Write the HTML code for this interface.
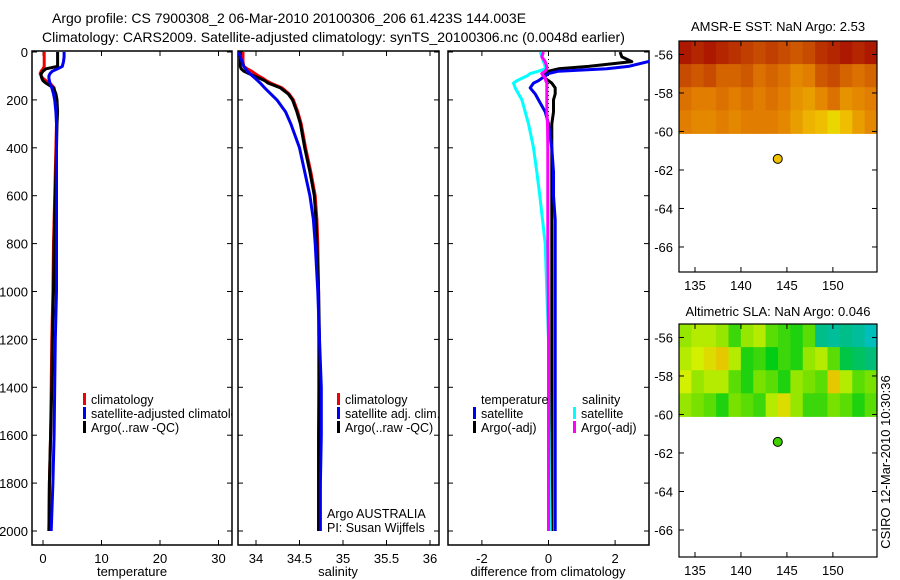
<!DOCTYPE html>
<html><head><meta charset="utf-8"><style>
body{margin:0;background:#fff;}
svg{display:block;font-family:"Liberation Sans",sans-serif;}
text{fill:#000;}
</style></head><body>
<svg id="c" width="900" height="580" viewBox="0 0 900 580">
<defs>
<clipPath id="cp1"><rect x="32" y="51" width="200" height="494"/></clipPath>
<clipPath id="cp2"><rect x="238" y="51" width="201" height="494"/></clipPath>
<clipPath id="cp3"><rect x="448" y="51" width="201" height="494"/></clipPath>
</defs>
<text x="52" y="23" font-size="14">Argo profile: CS 7900308_2 06-Mar-2010 20100306_206 61.423S 144.003E</text>
<text x="42" y="42" font-size="14">Climatology: CARS2009. Satellite-adjusted climatology: synTS_20100306.nc (0.0048d earlier)</text>
<text x="778" y="31" font-size="13" text-anchor="middle">AMSR-E SST: NaN Argo: 2.53</text>
<text x="778" y="316" font-size="13" text-anchor="middle">Altimetric SLA: NaN Argo: 0.046</text>
<text transform="translate(890,462) rotate(-90)" font-size="13" text-anchor="middle">CSIRO 12-Mar-2010 10:30:36</text>
<g id="g"></g>
</svg>
<script>
const depths=[0,20,40,60,70,80,90,100,110,120,130,150,175,200,250,300,400,500,600,700,800,1000,1200,1400,1600,1800,2000];
const tClim=[0.2,0.2,0.2,0.2,0.0,-0.3,-0.5,-0.3,0.0,0.5,1.2,1.9,2.1,2.2,2.3,2.3,2.2,2.1,2.0,1.9,1.8,1.7,1.5,1.4,1.3,1.1,1.0];
const tSat=[3.6,3.6,3.5,3.3,2.5,1.6,1.2,1.0,1.0,1.1,1.2,1.5,1.8,2.0,2.2,2.3,2.3,2.3,2.3,2.3,2.3,2.3,2.1,2.0,1.9,1.7,1.4];
const tArgo=[2.5,2.5,2.5,2.5,0.5,0.0,-0.3,-0.3,-0.2,0.0,0.5,1.8,2.2,2.4,2.5,2.4,2.3,2.2,2.1,2.0,1.9,1.8,1.6,1.5,1.3,1.1,1.0];
const sClim=[33.85,33.85,33.85,33.86,33.9,33.95,33.99,34.03,34.08,34.12,34.17,34.3,34.38,34.43,34.48,34.52,34.57,34.63,34.68,34.7,34.71,34.72,34.72,34.72,34.72,34.72,34.72];
const sArgo=[33.82,33.82,33.82,33.82,33.83,33.86,33.92,33.98,34.04,34.1,34.14,34.28,34.37,34.42,34.47,34.51,34.56,34.62,34.67,34.69,34.7,34.72,34.73,34.73,34.72,34.72,34.72];
const sSat=[33.8,33.82,33.84,33.86,33.88,33.9,33.93,33.96,33.99,34.02,34.05,34.1,34.17,34.24,34.34,34.4,34.5,34.56,34.62,34.66,34.68,34.71,34.73,34.75,34.75,34.74,34.74];
const dTSat=[3.5,3.3,3.0,2.4,1.75,0.3,0.0,-0.1,-0.2,-0.3,-0.45,-0.55,-0.4,-0.3,-0.1,0.0,0.1,0.15,0.15,0.2,0.2,0.2,0.2,0.2,0.2,0.2,0.2];
const dTArgo=[2.15,2.2,2.5,1.2,0.3,0.0,-0.15,-0.15,-0.1,0.0,0.1,0.2,0.2,0.15,0.15,0.1,0.1,0.1,0.1,0.1,0.1,0.1,0.1,0.1,0.1,0.1,0.1];
const dSSat=[-0.25,-0.2,-0.15,-0.1,-0.1,-0.3,-0.55,-0.65,-0.8,-0.95,-1.05,-1.0,-0.9,-0.8,-0.7,-0.6,-0.45,-0.35,-0.26,-0.18,-0.1,-0.05,0,0,0.02,0.03,0.05];
const dSArgo=[-0.15,-0.2,-0.1,-0.05,-0.05,-0.1,-0.2,-0.15,-0.1,-0.08,-0.05,-0.05,-0.05,-0.05,-0.05,-0.03,-0.02,-0.02,-0.02,-0.02,-0.02,-0.01,0,0,0,0,0];
const depthTicks=[0,200,400,600,800,1000,1200,1400,1600,1800,2000];
const tTicks=[0,10,20,30];
const sTicks=[34,34.5,35,35.5,36];
const dTicks=[-2,0,2];
const latTicks=[-56,-58,-60,-62,-64,-66];
const lonTicks=[135,140,145,150];
const sstGrid=[[0.1,0.15,0.1,0.15,0.2,0.25,0.3,0.25,0.3,0.35,0.3,0.2,0.15,0.1,0.15,0.1],[0.3,0.35,0.3,0.4,0.4,0.35,0.45,0.4,0.45,0.55,0.5,0.35,0.3,0.4,0.45,0.4],[0.45,0.5,0.5,0.45,0.5,0.45,0.5,0.45,0.5,0.6,0.65,0.55,0.45,0.6,0.55,0.5],[0.5,0.55,0.55,0.5,0.55,0.5,0.5,0.5,0.55,0.65,0.75,0.8,0.9,0.8,0.65,0.55]];
const slaGrid=[[0.5,0.6,0.6,0.5,0.2,0.5,0.6,0.3,0.2,0.1,0.3,-0.5,-0.6,-0.5,-0.6,-0.8],[0.6,0.7,0.8,0.9,0.6,0.1,0.2,0.0,0.2,0.1,0.5,0.6,0.3,-0.2,-0.3,-0.4],[0.7,0.5,0.6,0.6,0.3,0.1,0.4,0.3,0.1,0.5,0.4,0.3,0.9,0.6,0.3,0.4],[0.5,0.4,0.3,0.1,0.4,0.3,0.2,0.6,0.8,0.5,0.2,0.2,0.4,0.3,0.1,0.3]];
const argoLon=144.003, argoLat=-61.423;

const NS='http://www.w3.org/2000/svg';
const G=document.getElementById('g');
function mk(tag,at,parent){const e=document.createElementNS(NS,tag);for(const k in at)e.setAttribute(k,at[k]);(parent||G).appendChild(e);return e;}
const yD=d=>52+d*0.2395;
const xT=v=>43+5.85*v;
const xS=v=>256+87*(v-34);
const xDf=v=>548.5+33.3*v;
const panels=[{x:32,w:200,name:'temperature-panel'},{x:238,w:201,name:'salinity-panel'},{x:448,w:201,name:'difference-panel'}];
const pTop=51,pBot=545;
panels.forEach((p,i)=>{
 const r=mk('rect',{x:p.x,y:pTop,width:p.w,height:pBot-pTop,fill:'none',stroke:'#000','stroke-width':1.5});
 
 
 depthTicks.forEach(d=>{mk('line',{x1:p.x,x2:p.x+5,y1:yD(d),y2:yD(d),stroke:'#000'});mk('line',{x1:p.x+p.w-5,x2:p.x+p.w,y1:yD(d),y2:yD(d),stroke:'#000'});});
});
depthTicks.forEach(d=>{const t=mk('text',{x:28,y:yD(d)+5,'font-size':13,'text-anchor':'end'});t.textContent=d;
 
 });
function xticks(ticks,fx,lab){ticks.forEach(v=>{const x=fx(v);mk('line',{x1:x,x2:x,y1:pTop,y2:pTop+5,stroke:'#000'});mk('line',{x1:x,x2:x,y1:pBot-5,y2:pBot,stroke:'#000'});
 const t=mk('text',{x:x,y:pBot+18,'font-size':13,'text-anchor':'middle'});t.textContent=v;
 
 });}
xticks(tTicks,xT,'temperature-tick-label');xticks(sTicks,xS,'salinity-tick-label');xticks(dTicks,xDf,'difference-tick-label');
[['temperature',132],['salinity',338],['difference from climatology',548]].forEach(([s,x])=>{const t=mk('text',{x:x,y:576,'font-size':13,'text-anchor':'middle'});t.textContent=s;
 
 });
mk('line',{x1:xDf(0),x2:xDf(0),y1:pTop,y2:yD(2000),stroke:'#000','stroke-dasharray':'1,3'});
function series(vals,fx,col,clip,name){const pts=vals.map((v,i)=>fx(v).toFixed(1)+','+yD(depths[i]).toFixed(1)).join(' ');
 const l=mk('polyline',{points:pts,fill:'none',stroke:col,'stroke-width':3,'clip-path':'url(#'+clip+')','stroke-linejoin':'round'});
 
 }
series(tClim,xT,'#f00000','cp1','temperature-climatology-line');
series(tArgo,xT,'#000','cp1','temperature-argo-line');
series(tSat,xT,'#0000f0','cp1','temperature-satellite-line');
series(sClim,xS,'#f00000','cp2','salinity-climatology-line');
series(sArgo,xS,'#000','cp2','salinity-argo-line');
series(sSat,xS,'#0000f0','cp2','salinity-satellite-line');
series(dTArgo,xDf,'#000','cp3','temp-diff-argo-line');
series(dSSat,xDf,'#00ffff','cp3','sal-diff-satellite-line');
series(dTSat,xDf,'#0000f0','cp3','temp-diff-satellite-line');
series(dSArgo,xDf,'#ff00ff','cp3','sal-diff-argo-line');
function legend(items,clip){items.forEach(([x,y,col,s])=>{if(col)mk('rect',{x:x,y:y-11,width:3,height:12,fill:col});
 const at={x:x+(col?8:0),y:y,'font-size':12.5};if(clip)at['clip-path']='url(#'+clip+')';
 const t=mk('text',at);t.textContent=s;
 
 });}
legend([[83,404,'#f00000','climatology'],[83,418,'#0000f0','satellite-adjusted climatology'],[83,432,'#000','Argo(..raw -QC)']],'cp1');
legend([[337,404,'#f00000','climatology'],[337,418,'#0000f0','satellite adj. clim.'],[337,432,'#000','Argo(..raw -QC)']],'cp2');
legend([[327,518,null,'Argo AUSTRALIA'],[327,532,null,'PI: Susan Wijffels']]);
legend([[481,404,null,'temperature'],[473,418,'#0000f0','satellite'],[473,432,'#000','Argo(-adj)'],[582,404,null,'salinity'],[573,418,'#00ffff','satellite'],[573,432,'#ff00ff','Argo(-adj)']]);
const lonL=133.26,lonR=154.8;
function mapPanel(y0,y1,grid,cfn,dotCol,name){
 const pxDeg=19.25, latTop=-55.3;
 const yL=la=>y0+(latTop-la)*pxDeg, xL=lo=>679+(lo-lonL)*(198/(lonR-lonL));
 const rows=grid.length, cols=grid[0].length, yb=yL(-60.1), cw=198/cols, ch=(yb-y0)/rows;
 grid.forEach((row,r)=>row.forEach((v,c)=>{const e=mk('rect',{x:679+c*cw,y:y0+r*ch,width:cw+0.5,height:ch+0.5,fill:cfn(v)});
  
  }));
 const f=mk('rect',{x:679,y:y0,width:198,height:y1-y0,fill:'none',stroke:'#000','stroke-width':1.2});
 
 
 latTicks.forEach(la=>{const y=yL(la);mk('line',{x1:679,x2:684,y1:y,y2:y,stroke:'#000'});mk('line',{x1:872,x2:877,y1:y,y2:y,stroke:'#000'});
  const t=mk('text',{x:673,y:y+5,'font-size':13,'text-anchor':'end'});t.textContent=la;
  
  });
 lonTicks.forEach(lo=>{const x=xL(lo);mk('line',{x1:x,x2:x,y1:y0,y2:y0+5,stroke:'#000'});mk('line',{x1:x,x2:x,y1:y1-5,y2:y1,stroke:'#000'});
  const t=mk('text',{x:x,y:y1+18,'font-size':13,'text-anchor':'middle'});t.textContent=lo;
  
  });
 const d=mk('circle',{cx:xL(argoLon),cy:yL(argoLat),r:4.5,fill:dotCol,stroke:'#000','stroke-width':1});
 
 
}
function lerp(a,b,t){return a.map((v,i)=>Math.round(v+(b[i]-v)*t));}
function ramp(stops,v){v=Math.max(stops[0][0],Math.min(stops[stops.length-1][0],v));for(let i=0;i<stops.length-1;i++){if(v<=stops[i+1][0]){const t=(v-stops[i][0])/(stops[i+1][0]-stops[i][0]);const c=lerp(stops[i][1],stops[i+1][1],t);return 'rgb('+c.join(',')+')';}}}
const sstCol=v=>ramp([[0,[160,0,0]],[0.5,[225,125,0]],[0.8,[240,190,0]],[1,[230,240,0]]],v);
const slaCol=v=>ramp([[-1,[0,190,220]],[-0.4,[0,190,120]],[0,[0,205,20]],[0.4,[120,225,0]],[0.7,[210,240,0]],[1,[240,180,0]]],v);
mapPanel(41,272,sstGrid,sstCol,'#f0c000','sst-map');
mapPanel(324,557,slaGrid,slaCol,'#40d000','sla-map');
</script>
</body></html>
